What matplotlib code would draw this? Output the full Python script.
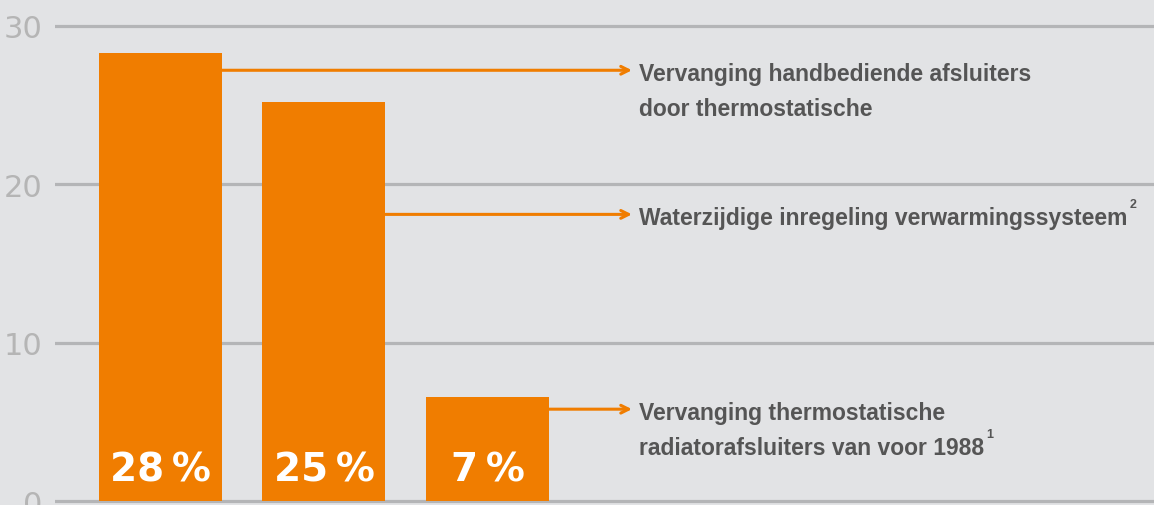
import matplotlib.pyplot as plt

# Waarden
categories = [['Vervanging handbediende afsluiters', 'door thermostatische'],
              ['Waterzijdige inregeling verwarmingssysteem'],
              ['Vervanging thermostatische', 'radiatorafsluiters van voor 1988']]
superscripts = ['', '2', '1']
values = [28.3, 25.2, 6.6]
bar_labels = ['28\u2009%', '25\u2009%', '7\u2009%']
connector_y = [27.2, 18.1, 5.8]
yticks = [0, 10, 20, 30]

orange = '#f07d00'
bg = '#e2e3e5'
grid = '#b4b5b7'
text_col = '#555555'

fig = plt.figure(figsize=(11.54, 5.06), dpi=100, facecolor=bg)
ax = fig.add_axes([55 / 1154, 0, 1 - 55 / 1154, 1])
ax.set_facecolor(bg)

x = list(range(len(values)))
width = 0.752
ax.bar(x, values, width=width, color=orange, zorder=3)

# lijnen met pijl naar de tekst
arrow_end = 2.884
text_x = 2.927
for i, (yc, lines, sup) in enumerate(zip(connector_y, categories, superscripts)):
    ax.annotate('', xy=(arrow_end, yc), xytext=(x[i] + width / 2, yc),
                arrowprops=dict(arrowstyle='->', color=orange, lw=2.2,
                                mutation_scale=14, shrinkA=0, shrinkB=0),
                zorder=4)
    t = None
    for j, line in enumerate(lines):
        t = ax.annotate(line, xy=(text_x, yc), xytext=(0, -10 - 35 * j),
                        textcoords='offset pixels', ha='left', va='baseline',
                        fontsize=16.5, fontweight='bold',
                        family='Liberation Sans', color=text_col)
    if sup:
        ax.annotate(sup, xy=(1, 1), xycoords=t, xytext=(2, 2),
                    textcoords='offset pixels', ha='left', va='center',
                    fontsize=9, fontweight='bold', family='Liberation Sans',
                    color=text_col)

# percentages in de balken
for i, lab in enumerate(bar_labels):
    ax.text(x[i], 1.3, lab, ha='center', va='baseline', color='white',
            fontsize=28, fontweight='bold', family='DejaVu Sans', zorder=5)

ax.set_xlim(-0.645, 6.077)
ax.set_ylim(-0.25, 31.7)
ax.set_yticks(yticks)
ax.set_yticklabels([str(t) for t in yticks], fontsize=22, color='#b5b5b5')
ax.tick_params(axis='y', length=0, pad=9)
ax.set_xticks([])
ax.grid(axis='y', color=grid, lw=2.3, zorder=1)
for s in ax.spines.values():
    s.set_visible(False)

plt.savefig('out.png', dpi=100, facecolor=bg)
